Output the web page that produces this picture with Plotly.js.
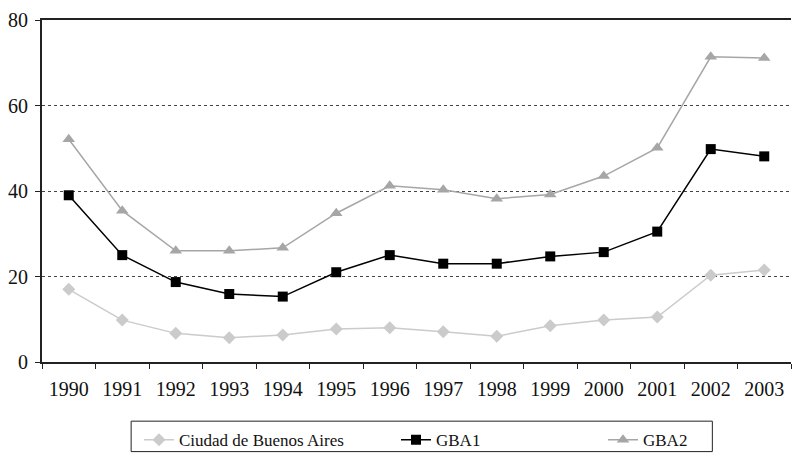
<!DOCTYPE html>
<html><head><meta charset="utf-8">
<script src="https://cdn.plot.ly/plotly-3.0.1.min.js"></script>
<style>body{margin:0;background:#fff}#chart{width:792px;height:456px}</style>
</head><body><div id="chart"></div>
<script>
const years = ['1990','1991','1992','1993','1994','1995','1996','1997','1998','1999','2000','2001','2002','2003'];
const ciudad = [17.0, 9.8, 6.7, 5.7, 6.3, 7.7, 8.0, 7.1, 6.0, 8.5, 9.8, 10.5, 20.3, 21.5];
const gba1 = [39.0, 25.0, 18.7, 15.9, 15.3, 21.0, 25.0, 23.0, 23.0, 24.7, 25.7, 30.5, 49.8, 48.1];
const gba2 = [52.1, 35.4, 26.0, 26.0, 26.7, 34.8, 41.2, 40.3, 38.2, 39.2, 43.5, 50.1, 71.4, 71.1];
const names = ['Ciudad de Buenos Aires', 'GBA1', 'GBA2'];

const font = {family: 'Liberation Serif, Times New Roman, serif', size: 20, color: '#111'};
const lfont = {family: 'Liberation Serif, Times New Roman, serif', size: 17, color: '#111'};
const data = [
  {x: years, y: ciudad, name: names[0], type: 'scatter', mode: 'lines+markers', legend: 'legend',
   line: {color: '#cbcbcb', width: 1.5}, marker: {symbol: 'diamond', size: 10, color: '#cbcbcb'}},
  {x: years, y: gba1, name: names[1], type: 'scatter', mode: 'lines+markers', legend: 'legend2',
   line: {color: '#000', width: 1.5}, marker: {symbol: 'square', size: 10, color: '#000'}},
  {x: years, y: gba2, name: names[2], type: 'scatter', mode: 'lines+markers', legend: 'legend3',
   line: {color: '#a6a6a6', width: 1.5}, marker: {symbol: 'triangle-up', size: 11, color: '#a6a6a6'}}
];
const legBase = {orientation: 'h', yref: 'container', y: 0.074, yanchor: 'top', xref: 'container',
                 bgcolor: 'rgba(0,0,0,0)', borderwidth: 0, font: lfont};
const layout = {
  width: 792, height: 456,
  margin: {l: 42, r: 1, t: 20, b: 94, autoexpand: false},
  paper_bgcolor: '#fff', plot_bgcolor: '#fff',
  font: font,
  showlegend: true,
  legend: Object.assign({}, legBase, {x: 139 / 792, xanchor: 'left'}),
  legend2: Object.assign({}, legBase, {x: 396 / 792, xanchor: 'left'}),
  legend3: Object.assign({}, legBase, {x: 603 / 792, xanchor: 'left'}),
  shapes: [{type: 'rect', xref: 'paper', yref: 'paper', x0: 0.119, x1: 0.895, y0: -0.173, y1: -0.262,
            line: {color: '#222', width: 1}, fillcolor: 'rgba(0,0,0,0)'}],
  xaxis: {type: 'category', tickson: 'boundaries', ticks: 'outside', ticklen: 5, tickcolor: '#222',
          showline: true, linecolor: '#222', linewidth: 2, mirror: true, showgrid: false,
          range: [-0.5, 13.5], tickfont: font, automargin: false, ticklabelstandoff: 8},
  yaxis: {range: [0, 80], dtick: 20, ticks: 'outside', ticklen: 5, tickcolor: '#222',
          showline: true, linecolor: '#222', linewidth: 2, showgrid: true, gridcolor: '#444',
          griddash: 'dot', gridwidth: 1.3, zeroline: false, tickfont: font, automargin: false,
          ticklabelstandoff: 3}
};
Plotly.newPlot('chart', data, layout, {displayModeBar: false});
</script></body></html>
